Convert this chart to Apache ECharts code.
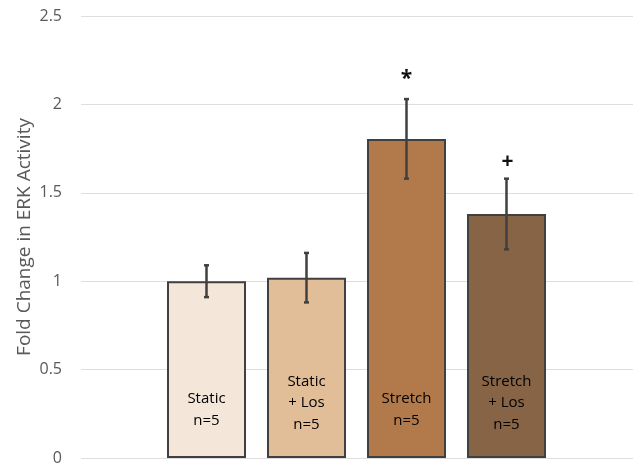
<!DOCTYPE html>
<html>
<head>
<meta charset="utf-8">
<script src="https://cdn.jsdelivr.net/npm/echarts@6/dist/echarts.min.js"></script>
<style>
  html, body { margin: 0; padding: 0; background: #fff; }
  #chart { width: 635px; height: 466px; }
</style>
</head>
<body>
<div id="chart"></div>
<script>
// ---- data ----
var categories = ['Static\nn=5', 'Static\n+ Los\nn=5', 'Stretch\nn=5', 'Stretch\n+ Los\nn=5'];
var means = [1.0, 1.02, 1.805, 1.38];
var errors = [0.09, 0.14, 0.225, 0.2];
var sigMarks = ['', '', '*', '+'];
var yTicks = [0, 0.5, 1, 1.5, 2, 2.5];

var colors = ['#F4E7DA', '#E1BE98', '#B27A4A', '#876446'];
var FONT = '"Open Sans", "Noto Sans", sans-serif';

var chart = echarts.init(document.getElementById('chart'), null, { renderer: 'canvas' });

var barData = means.map(function (v, i) {
  var lines = categories[i].split('\n').length;
  return {
    value: v,
    itemStyle: { color: colors[i] },
    label: { distance: lines === 2 ? 27 : 23 }
  };
});

var errData = means.map(function (v, i) {
  return [i, v - errors[i], v + errors[i], sigMarks[i]];
});

var option = {
  backgroundColor: '#fff',
  animation: false,
  grid: [
    { left: 81, right: 2, top: 16, bottom: 8 },
    { left: 156.5, width: 400, top: 16, bottom: 8 }
  ],
  xAxis: [
    { gridIndex: 0, type: 'value', min: 0, max: 1, show: false },
    { gridIndex: 1, type: 'category', data: categories, show: false }
  ],
  yAxis: [
    {
      gridIndex: 0, type: 'value', min: yTicks[0], max: yTicks[yTicks.length - 1], interval: 0.5,
      name: 'Fold Change in ERK Activity',
      nameLocation: 'middle', nameGap: 47, nameMoveOverlap: false,
      nameTextStyle: { fontFamily: FONT, fontSize: 19, color: '#595959' },
      axisLine: { show: false }, axisTick: { show: false },
      axisLabel: { fontFamily: FONT, fontSize: 16, color: '#595959', margin: 19 },
      splitLine: { lineStyle: { color: '#dedede', width: 1 } }
    },
    { gridIndex: 1, type: 'value', min: 0, max: 2.5, show: false, splitLine: { show: false } }
  ],
  series: [
    {
      type: 'bar',
      xAxisIndex: 1, yAxisIndex: 1,
      barWidth: 79,
      data: barData,
      itemStyle: { borderColor: '#404040', borderWidth: 2 },
      label: {
        show: true, position: 'insideBottom',
        formatter: function (p) { return categories[p.dataIndex]; },
        fontFamily: FONT, fontSize: 15, lineHeight: 21.5, color: '#000'
      }
    },
    {
      type: 'custom',
      xAxisIndex: 1, yAxisIndex: 1,
      data: errData,
      z: 10,
      renderItem: function (params, api) {
        var x = api.coord([api.value(0), 0])[0];
        var lo = api.coord([api.value(0), api.value(1)])[1];
        var hi = api.coord([api.value(0), api.value(2)])[1];
        var mark = errData[params.dataIndex][3];
        var cap = 2.5;
        var st = { stroke: '#404040', lineWidth: 2.5 };
        var children = [
          { type: 'line', shape: { x1: x, y1: lo, x2: x, y2: hi }, style: st },
          { type: 'line', shape: { x1: x - cap, y1: lo, x2: x + cap, y2: lo }, style: st },
          { type: 'line', shape: { x1: x - cap, y1: hi, x2: x + cap, y2: hi }, style: st }
        ];
        if (mark) {
          children.push({
            type: 'text',
            style: {
              text: mark, x: mark === '*' ? x : x + 1, y: hi - (mark === '*' ? 10 : 6),
              align: 'center', verticalAlign: 'bottom',
              font: 'bold 21px ' + FONT, fill: '#111'
            }
          });
        }
        return { type: 'group', children: children };
      }
    }
  ]
};
chart.setOption(option);
</script>
</body>
</html>
